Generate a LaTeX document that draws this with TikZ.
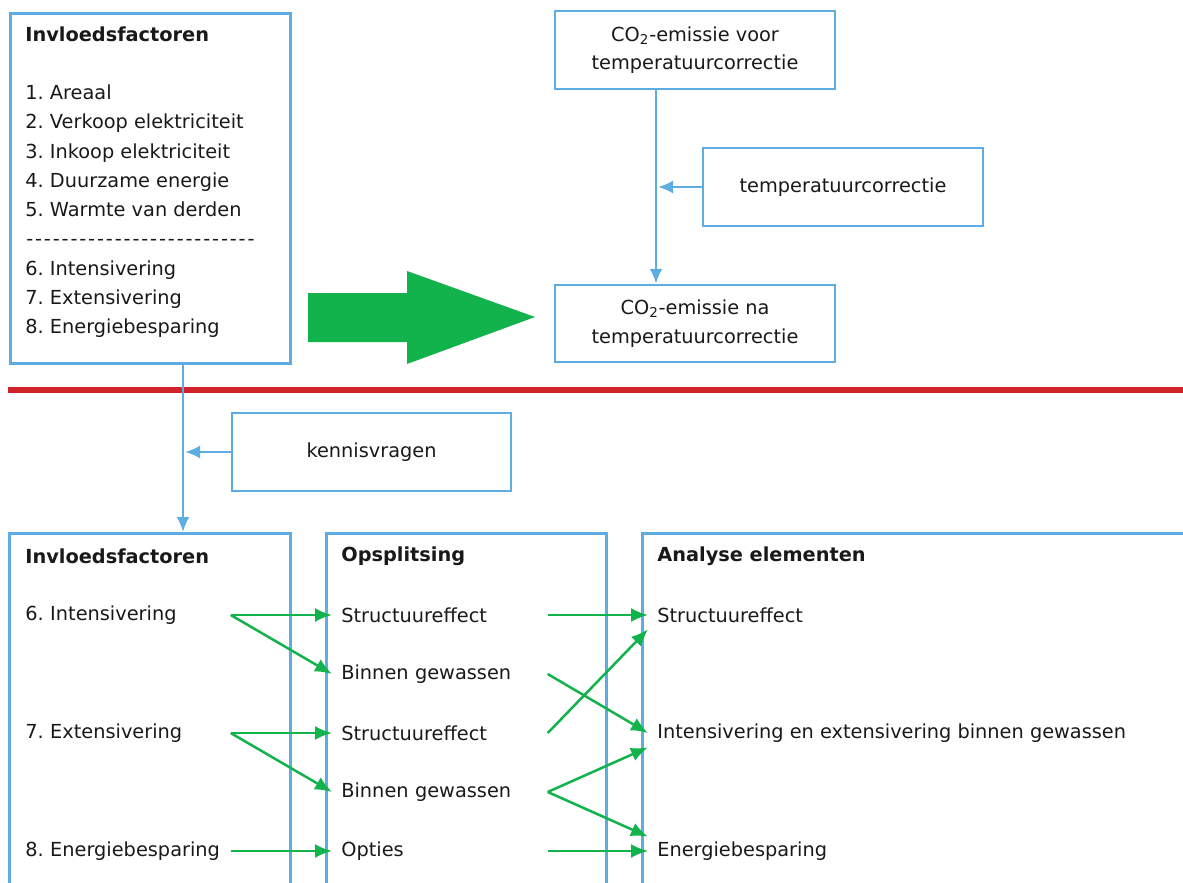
\documentclass[tikz,border=0pt]{standalone}
\usepackage{fontspec}
\setmainfont{DejaVu Sans}
\usetikzlibrary{positioning, arrows.meta}
\definecolor{boxblue}{RGB}{93,173,226}
\definecolor{arrowgreen}{RGB}{18,178,76}
\definecolor{linered}{RGB}{211,35,42}
\definecolor{textgrey}{RGB}{25,25,25}
\frenchspacing

\begin{document}
\begin{tikzpicture}[x=0.2mm, y=-0.2mm,
		every node/.style={font=\fontsize{11}{16.5}\selectfont, text=textgrey},
		blue box/.style={draw=boxblue, line width=0.5mm, rectangle, minimum width=56mm, 
		minimum height=15.6mm, align=center, inner sep=0, font=\fontsize{11}{5.7mm}\selectfont},
		blue line/.style={draw=boxblue, line width=0.5mm, -{Latex[length=3mm,width=2.6mm]}},
		green line/.style={draw=arrowgreen, line width=0.5mm, -{Latex[length=3.4mm,width=2.8mm]}},
		col head/.style={anchor=west, inner sep=0, font=\fontsize{11}{16.5}\selectfont\bfseries},
		left item/.style={anchor=west, inner sep=0, text width=41mm, align=left, minimum height=5.6mm},
		mid item/.style={anchor=west, inner xsep=1.8mm, inner ysep=0, text width=39.4mm, 
		align=left, minimum height=5.6mm},
		right item/.style={anchor=west, inner xsep=1.8mm, inner ysep=0, minimum height=5.6mm}]
		\useasboundingbox (0,0) rectangle (1183,883);
		\clip (0,0) rectangle (1183,883);
		
		% bovenste deel
		\node (Invloedsfactoren) at (9,12) [blue box, anchor=north west, minimum width=56mm, 
		minimum height=70mm]{};
		\node (Lijst) at (25,26) [anchor=north west, inner sep=0, align=left, 
		font=\fontsize{11}{5.85mm}\selectfont]{\textbf{Invloedsfactoren}\\[5.85mm]
		1. Areaal\\2. Verkoop elektriciteit\\3. Inkoop elektriciteit\\4. Duurzame energie\\
		5. Warmte van derden\\\foreach \i in {1,...,26}{\makebox[1.77mm]{-}}\\
		6. Intensivering\\7. Extensivering\\8. Energiebesparing};
		
		\node (CO2 voor) at (695,50) [blue box]{CO\textsubscript{2}-emissie voor\\temperatuurcorrectie};
		\node (Temperatuurcorrectie) at (843,187) [blue box]{temperatuurcorrectie};
		\node (CO2 na) at (695,323.5) [blue box, minimum height=15.4mm]{CO\textsubscript{2}-emissie na\\temperatuurcorrectie};
		\coordinate (CO2 lijn) at (656,187);
		\coordinate (CO2 pijl) at (658,187);
		
		\draw[blue line] (CO2 voor.south -| CO2 lijn) -- (CO2 na.north -| CO2 lijn);
		\draw[blue line] (Temperatuurcorrectie.west) -- (CO2 pijl);
		
		\fill[arrowgreen] (308,293) -- (407,293) -- (407,271) -- (535,317) -- (407,364) 
		-- (407,342) -- (308,342) -- cycle;
		
		\draw[linered, line width=1.2mm] (8,390) -- (1190,390);
		
		% onderste deel
		\node (Kennisvragen) at (371.5,452) [blue box, minimum width=55.8mm]{kennisvragen};
		\node (Invloedsfactoren onder) at (8,532) [blue box, anchor=north west, minimum width=56.2mm, 
		minimum height=80mm]{};
		\node (Opsplitsing) at (325,532) [blue box, anchor=north west, minimum height=80mm]{};
		\node (Analyse) at (641,532) [blue box, anchor=north west, minimum width=130mm, 
		minimum height=80mm]{};
		\coordinate (Kennis lijn) at (183,452);
		\coordinate (Kennis pijl) at (185,452);
		
		\draw[blue line] (Invloedsfactoren.south -| Kennis lijn) -- (Invloedsfactoren onder.north -| Kennis lijn);
		\draw[blue line] (Kennisvragen.west) -- (Kennis pijl);
		
		\node (Kop links) at (25,556) [col head]{Invloedsfactoren};
		\node (Kop midden) at (341,556) [col head]{Opsplitsing};
		\node (Kop rechts) at (657,556) [col head]{Analyse elementen};
		
		\node (Intensivering) at (25,615) [left item]{6. Intensivering};
		\node (Extensivering) at (25,733) [left item]{7. Extensivering};
		\node (Energiebesparing) at (25,851) [left item]{8. Energiebesparing};
		
		\node (Structuureffect 1) at (332,615) [mid item]{Structuureffect};
		\node (Binnen gewassen 1) at (332,674) [mid item]{Binnen gewassen};
		\node (Structuureffect 2) at (332,733) [mid item]{Structuureffect};
		\node (Binnen gewassen 2) at (332,792) [mid item]{Binnen gewassen};
		\node (Opties) at (332,851) [mid item]{Opties};
		
		\node (Analyse structuur) at (648,615) [right item]{Structuureffect};
		\node (Analyse binnen) at (648,733) [right item]{Intensivering en extensivering binnen gewassen};
		\node (Analyse besparing) at (648,851) [right item]{Energiebesparing};
		
		\draw[green line] (Intensivering.east) -- (Structuureffect 1.west);
		\draw[green line] (Intensivering.east) -- (Binnen gewassen 1.west);
		\draw[green line] (Extensivering.east) -- (Structuureffect 2.west);
		\draw[green line] (Extensivering.east) -- (Binnen gewassen 2.west);
		\draw[green line] (Energiebesparing.east) -- (Opties.west);
		
		\draw[green line] (Structuureffect 1.east) -- (Analyse structuur.west);
		\draw[green line] (Binnen gewassen 1.east) -- (Analyse binnen.west);
		\draw[green line] (Structuureffect 2.east) -- (Analyse structuur.south west);
		\draw[green line] (Binnen gewassen 2.east) -- (Analyse binnen.south west);
		\draw[green line] (Binnen gewassen 2.east) -- (Analyse besparing.north west);
		\draw[green line] (Opties.east) -- (Analyse besparing.west);
\end{tikzpicture}
\end{document}
